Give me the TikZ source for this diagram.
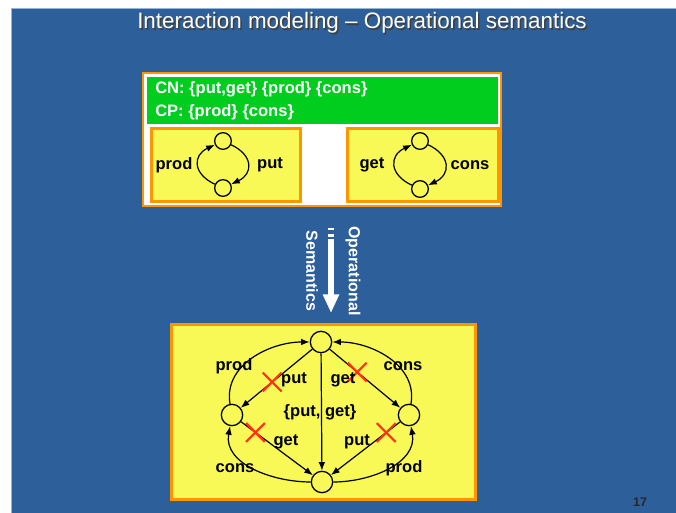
\documentclass[tikz,border=0pt]{standalone}
\usepackage{fontspec}
\setmainfont{Liberation Sans}
\usetikzlibrary{arrows.meta,shapes.misc}
\definecolor{slideblue}{RGB}{45,95,155}
\definecolor{slideedge}{RGB}{150,180,215}
\definecolor{boxgreen}{RGB}{0,205,30}
\definecolor{boxyellow}{RGB}{248,248,86}
\definecolor{boxorange}{RGB}{255,150,0}
\definecolor{crossred}{RGB}{255,50,20}
\tikzset{
  state/.style={circle, draw, fill=boxyellow, line width=0.95pt, minimum size=16pt, inner sep=0pt},
  smallstate/.style={state, minimum size=12.5pt},
  lbl/.style={font=\fontsize{12.4}{14}\selectfont\bfseries, inner sep=0pt},
  tr/.style={line width=0.9pt, -{Latex[length=6.5pt,width=5pt]}},
  xmark/.style={cross out, draw=crossred, line width=1.6pt, minimum size=12.5pt, inner sep=0pt},
  ybox/.style={fill=boxyellow, draw=boxorange, line width=2.25pt},
  titlefont/.style={font=\fontsize{16.8}{20}\selectfont},
  semfont/.style={font=\fontsize{12}{14}\selectfont\bfseries, text=white, rotate=-90, inner sep=0pt}
}
\begin{document}
\begin{tikzpicture}[x=0.75pt,y=-0.75pt]
\useasboundingbox (0,0) rectangle (676,513);
% slide background
\fill[white] (0,0) rectangle (676,513);
\fill[slideblue] (11,8) rectangle (676,513);
\draw[slideedge, line width=0.6pt] (11.4,513) -- (11.4,8.4) -- (676,8.4);

% title with shadow
\node[titlefont, text=black!75] (titleshadow) at (363.5,24.5) {Interaction modeling – Operational semantics};
\node[titlefont, text=white] (title) at (362,23) {Interaction modeling – Operational semantics};

% upper panel: connectors and components
\filldraw[fill=white, draw=boxorange, line width=1.5pt] (143,73) rectangle (501,206);
\fill[boxgreen] (147,77) rectangle (498,124);
\node[lbl, text=white, anchor=west] (cn) at (155,89) {CN: \{put,get\} \{prod\} \{cons\}};
\node[lbl, text=white, anchor=west] (cp) at (155,112) {CP: \{prod\} \{cons\}};

% producer component
\filldraw[ybox] (151.5,128.5) rectangle (300.5,201.5);
\node[smallstate] (pt) at (223,141) {};
\node[smallstate] (pb) at (223,188) {};
\draw[tr] (pb) to[bend left=65, looseness=1.6] (pt);
\draw[tr] (pt) to[bend left=65, looseness=1.6] (pb);
\node[lbl] (lprod) at (174,165) {prod};
\node[lbl] (lput) at (270,165) {put};

% consumer component
\filldraw[ybox] (347.5,128.5) rectangle (498.5,201.5);
\node[smallstate] (ct) at (420,141) {};
\node[smallstate] (cb) at (420,189) {};
\draw[tr] (cb) to[bend left=65, looseness=1.6] (ct);
\draw[tr] (ct) to[bend left=65, looseness=1.6] (cb);
\node[lbl] (lget) at (372,165) {get};
\node[lbl] (lcons) at (470,165) {cons};

% operational semantics arrow
\fill[white] (328,228.5) rectangle (334,230.5);
\fill[white] (328,234.5) rectangle (334,237.5);
\coordinate (semtop) at (331,239);
\coordinate (semtip) at (331,313);
\draw[white, line width=4.5pt, -{Triangle[length=14pt,width=11.5pt]}] (semtop) -- (semtip);
\node[semfont] (opl) at (353,271) {Operational};
\node[semfont] (seml) at (312,271) {Semantics};

% lower panel: composed behaviour
\filldraw[ybox] (171.5,324.5) rectangle (475.5,499.5);
\node[state] (T) at (321,342) {};
\node[state] (L) at (232,415) {};
\node[state] (R) at (409,415) {};
\node[state] (B) at (322,482) {};

\draw[tr] (T) -- node[pos=0.56, xmark] (x1) {} (L);
\draw[tr] (T) -- node[pos=0.39, xmark] (x2) {} (R);
\draw[tr] (T) -- (B);
\draw[tr] (L) -- node[pos=0.2, xmark] (x3) {} (B);
\draw[tr] (R) -- node[pos=0.2, xmark] (x4) {} (B);

\draw[tr] (L) to[out=100, in=180] (T);
\draw[tr] (R) to[out=80, in=0] (T);
\draw[tr] (B) to[out=180, in=-100] (L);
\draw[tr] (B) to[out=0, in=-80] (R);

\node[lbl] (aprod) at (234,366) {prod};
\node[lbl] (acons) at (403,366) {cons};
\node[lbl] (aput) at (294,380) {put};
\node[lbl] (aget) at (343,380) {get};
\node[lbl] (aboth) at (320,412) {\{put, get\}};
\node[lbl] (bget) at (286,442) {get};
\node[lbl] (bput) at (357,442) {put};
\node[lbl] (bcons) at (235,468) {cons};
\node[lbl] (bprod) at (404,468) {prod};

% slide number
\node[font=\fontsize{9.4}{11}\selectfont\bfseries, text=black!85] (pagenum) at (640,502) {17};
\end{tikzpicture}
\end{document}
